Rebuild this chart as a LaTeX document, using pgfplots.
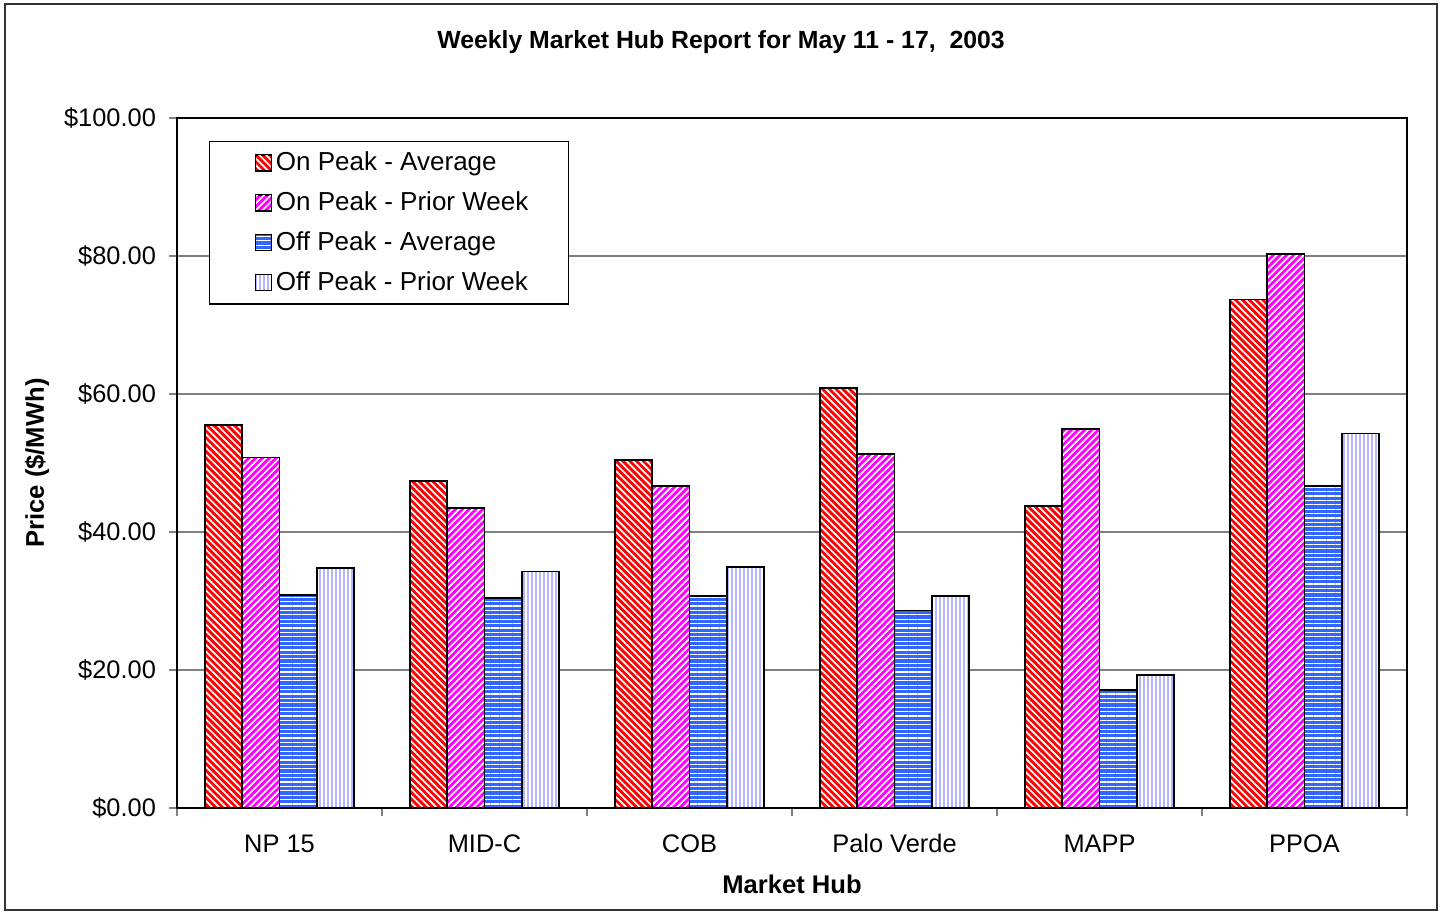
\documentclass[border=0pt]{standalone}
\usepackage{pgfplots}
\pgfplotsset{compat=1.18}
\usetikzlibrary{patterns.meta}
\usepackage{fontspec}
\setmainfont{Liberation Sans}
\definecolor{cRed}{RGB}{255,0,0}
\definecolor{cMag}{RGB}{255,0,255}
\definecolor{cBlue}{RGB}{51,102,255}
\definecolor{cLav}{RGB}{180,180,255}
\definecolor{gridgray}{RGB}{128,128,128}
\begin{document}
\begin{tikzpicture}
\useasboundingbox (0,0) rectangle (721.5pt,-457pt);
\draw[line width=0.8pt, black!80] (2.5pt,-2pt) rectangle (718.5pt,-455pt);
\node[font=\fontsize{12.4pt}{14pt}\selectfont\bfseries] at (360.5pt,-21pt) {Weekly Market Hub Report for May 11 - 17,~~2003};
\begin{axis}[
  at={(88.5pt,-404pt)}, anchor=south west,
  scale only axis, width=615pt, height=345pt,
  xmin=-0.5, xmax=5.5, ymin=0, ymax=100,
  xtick={0,...,5},
  xticklabels={NP 15, MID-C, COB, Palo Verde, MAPP, PPOA},
  major x tick style={draw=none},
  minor xtick={-0.5,0.5,...,5.5},
  minor tick length=4pt,
  major tick length=4pt,
  tick align=outside,
  xtick pos=bottom, ytick pos=left,
  ytick={0,20,...,100},
  yticklabels={\$0.00,\$20.00,\$40.00,\$60.00,\$80.00,\$100.00},
  ymajorgrids,
  grid style={gridgray, line width=0.6pt},
  tick style={gridgray, line width=0.6pt},
  axis line style={black, line width=0.8pt},
  ticklabel style={font=\fontsize{12.7pt}{15pt}\selectfont},
  xticklabel style={yshift=-5.5pt, text height=9.2pt},
  yticklabel style={xshift=-3pt},
  xlabel={Market Hub},
  ylabel={Price (\$/MWh)},
  label style={font=\fontsize{12.8pt}{14pt}\selectfont\bfseries},
  xlabel style={at={(axis description cs:0.5,-0.110)}, anchor=center},
  ylabel style={at={(axis description cs:-0.1138,0.5)}, anchor=center},
  ybar, bar width=0.182,
  legend style={at={(rel axis cs:0.026,0.967)}, anchor=north west,
    draw=black, line width=0.6pt, inner xsep=18pt, inner ysep=3.3pt,
    row sep=5pt,
    font=\fontsize{13pt}{15pt}\selectfont},
  legend cell align=left,
  legend image code/.code={\path (0pt,0pt); \draw[#1, line width=0.6pt] (4.5pt,-4pt) rectangle (12.5pt,4pt);},
]
\addplot[bar shift=-0.273, draw=black, line width=0.8pt, preaction={fill=cRed},
  pattern={Lines[angle=-45,distance=2.4pt,line width=0.85pt]}, pattern color=white]
  coordinates {(0,55.5) (1,47.4) (2,50.4) (3,60.9) (4,43.8) (5,73.7)};
\addplot[bar shift=-0.091, draw=black, line width=0.8pt, preaction={fill=cMag},
  pattern={Lines[angle=45,distance=2.4pt,line width=0.85pt]}, pattern color=white]
  coordinates {(0,50.8) (1,43.5) (2,46.7) (3,51.3) (4,54.9) (5,80.3)};
\addplot[bar shift=0.091, draw=black, line width=0.8pt, preaction={fill=cBlue},
  pattern={Lines[angle=0,distance=2.2pt,line width=0.55pt]}, pattern color=white]
  coordinates {(0,30.9) (1,30.4) (2,30.7) (3,28.6) (4,17.1) (5,46.7)};
\addplot[bar shift=0.273, draw=black, line width=0.8pt, preaction={fill=white},
  pattern={Lines[angle=90,distance=2pt,line width=0.9pt]}, pattern color=cLav]
  coordinates {(0,34.8) (1,34.3) (2,34.9) (3,30.7) (4,19.3) (5,54.3)};
\legend{On Peak - Average, On Peak - Prior Week, Off Peak - Average, Off Peak - Prior Week}
\end{axis}
\end{tikzpicture}
\end{document}
